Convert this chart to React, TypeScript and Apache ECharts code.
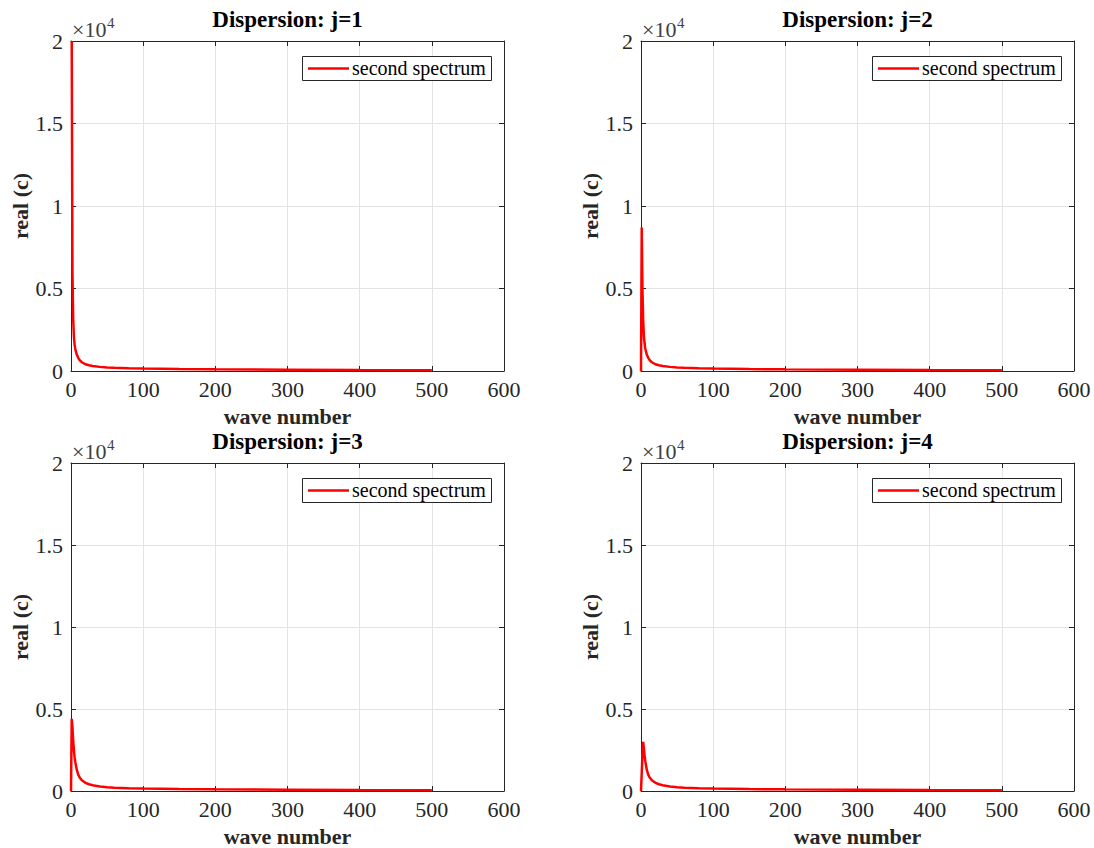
import React, { useEffect, useRef } from "react";
import * as echarts from "echarts";

const titles = ["Dispersion: j=1", "Dispersion: j=2", "Dispersion: j=3", "Dispersion: j=4"];
const seriesName = "second spectrum";
const xTicks = [0, 100, 200, 300, 400, 500, 600];
const yTicks = [0, 5000, 10000, 15000, 20000];
const expLabel = "×10";
const expPower = "4";

const k1 = [1, 2, 3, 4, 5, 6, 8, 10, 12, 15, 20, 25, 30, 40, 50, 60, 80, 100, 150, 200, 300, 400, 500];
const c1 = [20000, 6000, 3200, 2100, 1600, 1330, 1000, 800, 660, 530, 410, 345, 300, 250, 215, 195, 170, 150, 120, 100, 75, 55, 40];

const k2 = [0, 1, 2, 3, 4, 5, 6, 8, 10, 12, 15, 20, 25, 30, 40, 50, 60, 80, 100, 150, 200, 300, 400, 500];
const c2 = [0, 8700, 5000, 3100, 2100, 1650, 1350, 1000, 800, 660, 530, 410, 345, 300, 250, 215, 195, 170, 150, 120, 100, 75, 55, 40];

const k3 = [0, 1, 2, 3, 4, 5, 6, 8, 10, 12, 15, 20, 25, 30, 40, 50, 60, 80, 100, 150, 200, 300, 400, 500];
const c3 = [0, 4400, 3900, 3100, 2500, 2050, 1750, 1300, 1000, 820, 650, 500, 410, 350, 280, 235, 205, 175, 155, 120, 100, 75, 55, 40];

const k4 = [0, 1, 2, 3, 4, 5, 6, 8, 10, 12, 15, 20, 25, 30, 40, 50, 60, 80, 100, 150, 200, 300, 400, 500];
const c4 = [0, 1100, 2200, 3000, 2600, 2150, 1800, 1300, 1000, 820, 650, 500, 410, 350, 280, 235, 205, 175, 155, 120, 100, 75, 55, 40];

const waves = [k1, k2, k3, k4];
const values = [c1, c2, c3, c4];

const FONT = "Liberation Serif";
const AX = "#262626";

export default function App() {
  const ref = useRef<HTMLDivElement>(null);
  useEffect(() => {
    document.body.style.margin = "0";
    const chart = echarts.init(ref.current!, null, { renderer: "svg" });
    const lefts = [71, 641, 71, 641];
    const tops = [41, 41, 463, 463];
    const W = 433;
    const H = 330;
    const grid: any[] = [];
    const xAxis: any[] = [];
    const yAxis: any[] = [];
    const series: any[] = [];
    const title: any[] = [];
    const graphic: any[] = [];
    const plainText = (text: string, left: number, top: number, size: number, color: string, weight = "normal") => ({
      text,
      left,
      top,
      padding: 0,
      itemGap: 0,
      textStyle: { fontFamily: FONT, fontSize: size, fontWeight: weight, color, lineHeight: size },
    });
    for (let i = 0; i < 4; i++) {
      grid.push({ left: lefts[i], top: tops[i], width: W, height: H, containLabel: false, show: false });
      const common = {
        gridIndex: i,
        type: "value",
        min: xTicks[0],
        max: xTicks[xTicks.length - 1],
        interval: 100,
        axisLine: { show: true, onZero: false, lineStyle: { color: AX, width: 1 } },
        axisTick: { show: true, inside: true, length: 5, lineStyle: { color: AX } },
      };
      xAxis.push({
        ...common,
        position: "bottom",
        name: "wave number",
        nameLocation: "middle",
        nameGap: 34,
        nameTextStyle: { fontFamily: FONT, fontSize: 22, fontWeight: "bold", color: AX },
        axisLabel: { show: true, fontFamily: FONT, fontSize: 22, color: AX, margin: 7 },
        splitLine: { show: true, lineStyle: { color: "#e3e3e3", width: 1 } },
      });
      xAxis.push({
        ...common,
        position: "top",
        axisLabel: { show: false },
        splitLine: { show: false },
      });
      const ycommon = {
        gridIndex: i,
        type: "value",
        min: 0,
        max: yTicks[yTicks.length - 1],
        interval: 5000,
        axisLine: { show: true, onZero: false, lineStyle: { color: AX, width: 1 } },
        axisTick: { show: true, inside: true, length: 5, lineStyle: { color: AX } },
      };
      yAxis.push({
        ...ycommon,
        position: "left",
        name: "real (c)",
        nameLocation: "middle",
        nameGap: 35,
        nameTextStyle: { fontFamily: FONT, fontSize: 22, fontWeight: "bold", color: AX },
        axisLabel: {
          show: true,
          fontFamily: FONT,
          fontSize: 22,
          color: AX,
          margin: 8,
          formatter: (v: number) => String(v / 10000),
        },
        splitLine: { show: true, lineStyle: { color: "#e3e3e3", width: 1 } },
      });
      yAxis.push({
        ...ycommon,
        position: "right",
        axisLabel: { show: false },
        splitLine: { show: false },
      });
      series.push({
        type: "line",
        name: seriesName,
        xAxisIndex: 2 * i,
        yAxisIndex: 2 * i,
        data: waves[i].map((k, j) => [k, values[i][j]]),
        showSymbol: false,
        symbol: "none",
        smooth: false,
        clip: true,
        lineStyle: { color: "#ff0000", width: 2.5 },
        itemStyle: { color: "#ff0000" },
      });
      title.push({
        text: titles[i],
        left: lefts[i] + W / 2,
        top: tops[i] - 33,
        textAlign: "center",
        textStyle: { fontFamily: FONT, fontSize: 23, fontWeight: "bold", color: "#000" },
        padding: 0,
      });
      const R = lefts[i] + W;
      const T = tops[i];
      // legend box
      graphic.push({
        type: "rect",
        z: 4,
        shape: { x: R - 202 + 0.5, y: T + 15 + 0.5, width: 189, height: 24 },
        style: { fill: "#fff", stroke: AX, lineWidth: 1 },
      });
      graphic.push({
        type: "line",
        z: 5,
        shape: { x1: R - 196, y1: T + 27.5, x2: R - 155, y2: T + 27.5 },
        style: { stroke: "#ff0000", lineWidth: 2.5 },
      });
      title.push(plainText(seriesName, R - 152, T + 17, 20, "#000"));
      title.push(plainText(expLabel, lefts[i] + 1, T - 23, 22, "#404040"));
      title.push(plainText(expPower, lefts[i] + 36, T - 26, 15, "#404040"));
    }
    chart.setOption({
      animation: false,
      backgroundColor: "#fff",
      textStyle: { fontFamily: FONT },
      grid,
      xAxis,
      yAxis,
      series,
      title,
      graphic,
    });
    return () => chart.dispose();
  }, []);
  return <div ref={ref} style={{ width: 1094, height: 848 }} />;
}
